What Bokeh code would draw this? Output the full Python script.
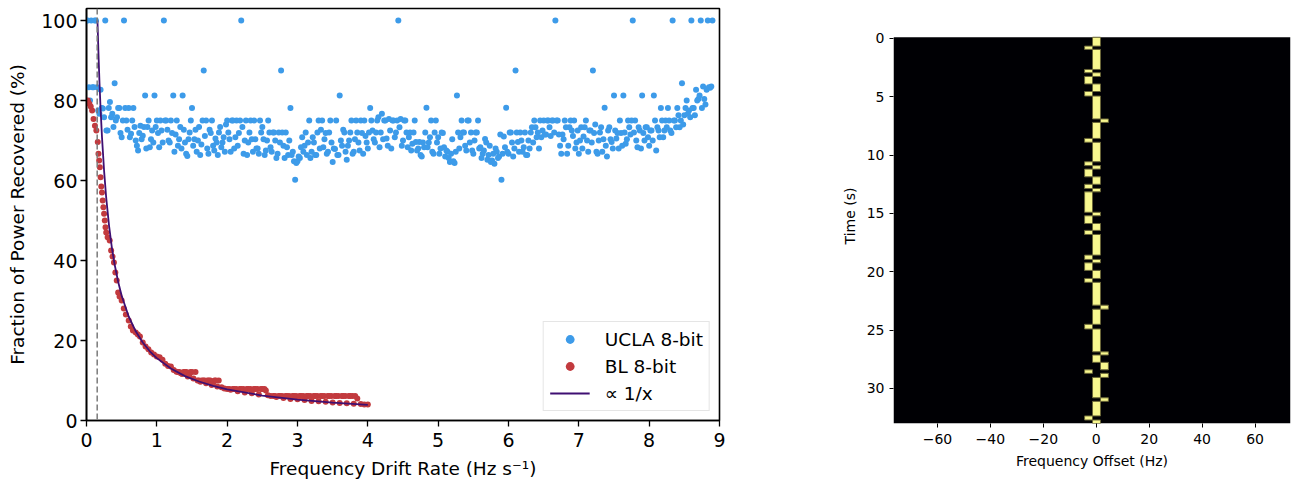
import numpy as np
from bokeh.plotting import figure
from bokeh.layouts import row
from bokeh.models import (Range1d, Span, Legend, LegendItem, FixedTicker,
                          ColumnDataSource)
from bokeh.embed import file_html
from bokeh.resources import INLINE

# ---------------- data: left panel ----------------
# UCLA 8-bit: drift rates sampled every 1/60 Hz/s from 0 to 8.9
ucla_step = 1.0 / 30.0
# values at x = i/30
ucla_y = [
    100, 83.3, 100, 83.3, 100, 77.5, 82.7, 78.0, 100, 72.5,
    79.6, 76.7, 84.3, 75.8, 78.1, 70.8, 100, 75.0, 78.1, 71.7,
    78.1, 70.0, 67.5, 73.7, 71.2, 81.25, 73.4, 68.3, 72.5, 81.25,
    75.0, 68.3, 72.5, 100, 75.0, 70.0, 75.0, 81.25, 71.5, 68.7,
    73.4, 81.25, 69.5, 66.1, 72.0, 78.1, 70.3, 67.2, 73.4, 69.0,
    87.5, 75.0, 66.7, 71.9, 68.7, 70.5, 66.4, 73.4, 69.5, 67.2,
    75.0, 70.3, 75.0, 68.0, 75.0, 71.9, 100, 66.7, 75.0, 69.5,
    75.0, 67.2, 70.3, 68.0, 75.0, 73.4, 66.4, 70.0, 72.0, 67.2,
    72.0, 65.6, 72.0, 87.5, 68.7, 72.0, 66.4, 78.1, 67.2, 60.2,
    64.8, 65.6, 70.8, 68.7, 66.4, 75.0, 67.2, 69.5, 66.4, 75.0,
    72.7, 68.3, 71.9, 67.2, 75.0, 64.6, 67.9, 66.4, 81.25, 68.7,
    72.0, 65.2, 70.0, 75.0, 67.2, 75.0, 69.5, 75.0, 66.7, 71.1,
    68.0, 78.1, 72.5, 69.5, 75.0, 68.3, 76.7, 75.0, 70.5, 75.4,
    68.0, 75.0, 72.0, 100, 75.4, 70.0, 75.0, 68.3, 72.0, 69.2,
    75.0, 67.5, 69.6, 66.0, 68.3, 78.2, 69.5, 75.0, 66.7, 75.0,
    70.8, 68.0, 71.9, 66.0, 67.2, 64.6, 70.3, 64.4, 81.25, 68.0,
    75.0, 72.0, 67.5, 75.0, 72.0, 66.7, 72.0, 75.0, 68.3, 66.7,
    70.4, 65.2, 68.7, 65.0, 64.2, 67.2, 66.0, 60.2, 71.0, 78.2,
    66.7, 72.0, 66.0, 87.5, 69.6, 72.0, 67.2, 72.0, 66.4, 68.0,
    73.3, 75.0, 70.8, 68.0, 70.8, 75.0, 71.5, 75.0, 71.1, 75.0,
    100, 75.0, 68.7, 71.5, 75.0, 66.7, 73.3, 72.5, 75.0, 69.5,
    66.7, 73.3, 71.0, 75.0, 67.2, 72.5, 87.5, 74.0, 66.7, 72.0,
    67.2, 78.2, 66.0, 73.3, 69.6, 81.25, 70.5, 68.0, 71.9, 81.25,
    69.2, 75.0, 71.5, 100, 75.0, 68.3, 72.5, 81.25, 70.0, 73.3,
    68.7, 72.5, 81.25, 67.5, 72.5, 78.1, 70.8, 75.0, 78.1, 72.5,
    100, 75.0, 78.1, 73.3, 84.3, 76.3, 80.0, 77.5, 100, 78.1,
    82.7, 80.4, 100, 83.5, 79.0, 100, 83.2, 100,
]
# values at x = (i + 0.5)/30
ucla_y_mid = [
    100, 80.0, 83.3, 100, 83.3, 76.7, 78.1, 75.8, 72.5, 78.1,
    75.8, 73.4, 75.0, 78.1, 71.9, 75.0, 78.1, 72.7, 70.8, 75.0,
    73.4, 68.7, 71.9, 70.3, 73.4, 68.0, 75.0, 70.3, 69.5, 73.4,
    71.9, 75.0, 69.5, 75.0, 72.7, 69.5, 71.9, 67.2, 75.0, 70.3,
    68.0, 72.7, 66.7, 70.3, 75.0, 68.7, 72.7, 70.0, 66.4, 75.0,
    71.1, 68.0, 72.7, 75.0, 67.5, 69.5, 72.0, 68.3, 70.8, 74.0,
    72.0, 67.2, 75.0, 70.8, 68.7, 75.0, 73.4, 70.0, 66.4, 72.0,
    70.3, 75.0, 68.0, 66.7, 72.0, 70.3, 67.5, 75.0, 68.3, 72.0,
    70.0, 66.7, 69.5, 72.0, 65.6, 68.3, 70.0, 66.4, 64.8, 64.4,
    66.0, 68.3, 67.2, 72.0, 69.5, 65.6, 70.8, 66.4, 72.0, 68.0,
    75.0, 70.3, 66.7, 72.0, 69.5, 68.0, 75.0, 66.4, 70.0, 72.7,
    67.2, 68.7, 72.0, 66.7, 70.3, 72.0, 67.5, 71.9, 75.0, 69.5,
    72.0, 75.0, 70.3, 72.0, 75.8, 72.0, 70.3, 75.0, 68.7, 72.5,
    75.0, 70.8, 75.0, 73.3, 68.7, 75.0, 72.0, 70.8, 67.5, 72.0,
    69.6, 68.0, 66.4, 69.5, 72.0, 68.3, 70.8, 67.2, 72.0, 69.5,
    66.7, 72.0, 68.3, 67.5, 65.6, 66.7, 64.8, 67.2, 72.0, 70.8,
    72.0, 68.7, 75.0, 69.5, 67.5, 70.0, 72.0, 68.0, 65.6, 67.5,
    69.5, 66.4, 64.6, 66.7, 68.0, 65.6, 71.5, 66.7, 68.3, 67.2,
    72.0, 69.5, 68.0, 72.0, 67.2, 70.0, 68.3, 66.4, 70.0, 72.0,
    69.5, 73.3, 72.0, 75.0, 72.5, 71.5, 75.0, 73.3, 75.0, 72.0,
    75.0, 71.5, 66.7, 70.3, 73.3, 68.7, 75.0, 71.1, 68.0, 72.5,
    70.0, 68.0, 73.3, 70.0, 72.5, 69.5, 71.9, 67.2, 70.0, 73.3,
    70.3, 68.7, 72.5, 70.3, 68.0, 72.5, 71.9, 75.0, 68.7, 72.0,
    70.3, 73.3, 75.0, 72.0, 70.0, 73.3, 68.0, 71.9, 73.3, 70.8,
    72.5, 70.0, 75.0, 73.3, 70.8, 75.0, 72.5, 73.3, 75.0, 71.9,
    75.0, 73.3, 76.3, 75.0, 74.0, 78.1, 76.7, 75.8, 78.1, 76.3,
    80.0, 81.25, 78.1, 80.4, 82.7, 83.3, 83.5,
]
ucla_x = ([i * ucla_step for i in range(len(ucla_y))] +
          [(i + 0.5) * ucla_step for i in range(len(ucla_y_mid))])
ucla_all_y = ucla_y + ucla_y_mid

# BL 8-bit
bl_x = [0.00, 0.02, 0.04, 0.06, 0.08, 0.10, 0.12, 0.14, 0.16, 0.17,
        0.18, 0.19, 0.20, 0.21, 0.22, 0.23, 0.24, 0.25, 0.26, 0.27,
        0.28, 0.30, 0.33, 0.35, 0.37, 0.39, 0.41, 0.43, 0.45, 0.47,
        0.50, 0.53, 0.56, 0.60, 0.63, 0.66, 0.70, 0.73, 0.76, 0.80,
        0.84, 0.88, 0.92, 0.96, 1.00, 1.04, 1.08, 1.12, 1.16, 1.20,
        1.24, 1.28, 1.32, 1.36, 1.40, 1.44, 1.48, 1.52, 1.55, 1.58,
        1.62, 1.66, 1.70, 1.74, 1.78, 1.82, 1.86, 1.88, 1.92, 1.96,
        2.00, 2.05, 2.10, 2.15, 2.20, 2.25, 2.30, 2.35, 2.40, 2.45,
        2.50, 2.55, 2.58, 2.62, 2.66, 2.70, 2.75, 2.80, 2.85, 2.90,
        2.95, 3.00, 3.05, 3.10, 3.15, 3.20, 3.25, 3.30, 3.35, 3.40,
        3.45, 3.50, 3.55, 3.60, 3.65, 3.70, 3.75, 3.80, 3.85, 3.90,
        3.95, 4.00,
        1.30, 1.34, 1.38, 1.42, 1.46, 1.50, 1.60, 1.64, 1.68, 1.72,
        1.76, 1.80, 1.84, 2.03, 2.08, 2.13, 2.18, 2.23, 2.28, 2.33,
        2.38, 2.43, 2.48, 2.53, 2.68, 2.73, 2.78, 2.83, 2.88, 2.93,
        2.98, 3.03, 3.08, 3.13, 3.18, 3.23, 3.28, 3.33, 3.38, 3.43,
        3.48, 3.53, 3.58, 3.63, 3.68, 3.73, 3.78, 3.82]
bl_y = [80.0, 80.0, 79.2, 78.5, 77.5, 75.4, 73.7, 72.5, 69.6, 66.7,
        65.0, 63.3, 60.8, 58.5, 57.0, 55.0, 53.3, 51.7, 50.0, 48.3,
        47.0, 45.8, 45.0, 42.5, 41.0, 39.5, 37.0, 35.0, 32.0, 31.0,
        30.0, 28.0, 26.5, 25.0, 23.5, 22.5, 22.0, 21.5, 21.0, 19.5,
        18.5, 17.8, 17.0, 16.5, 16.0, 15.8, 15.2, 14.2, 13.6, 13.5,
        12.6, 12.2, 12.1, 11.6, 12.1, 11.0, 12.1, 10.5, 12.1, 10.0,
        9.7, 10.0, 9.3, 10.0, 8.9, 10.0, 8.5, 10.0, 8.3, 8.0,
        7.9, 7.7, 7.9, 7.3, 7.9, 7.0, 7.9, 6.8, 7.9, 6.5,
        7.9, 7.5, 6.3, 6.1, 6.1, 5.9, 6.1, 5.6, 6.1, 5.4,
        6.1, 5.3, 6.1, 5.1, 6.1, 4.9, 6.1, 4.8, 6.1, 4.7,
        6.1, 4.5, 6.1, 4.4, 6.1, 4.3, 6.1, 4.2, 5.5, 4.1,
        4.0, 4.0,
        12.1, 11.8, 12.1, 12.1, 11.3, 12.1, 10.0, 10.0, 10.0, 10.0,
        10.0, 9.5, 10.0, 7.9, 7.9, 7.9, 7.9, 7.9, 7.9, 7.9,
        7.9, 7.9, 7.9, 7.9, 6.1, 6.1, 6.1, 6.1, 6.1, 6.1,
        6.1, 6.1, 6.1, 6.1, 6.1, 6.1, 6.1, 6.1, 6.1, 6.1,
        6.1, 6.1, 6.1, 6.1, 6.1, 6.1, 6.1, 6.1]

# proportional-to-1/x reference curve
fit_x = [0.156, 0.17, 0.185, 0.2, 0.22, 0.25, 0.28, 0.32, 0.36, 0.4,
         0.45, 0.5, 0.6, 0.7, 0.8, 0.9, 1.0, 1.2, 1.4, 1.6,
         1.8, 2.0, 2.5, 3.0, 3.5, 4.0]
fit_y = [100, 91.8, 84.3, 78.0, 70.9, 62.4, 55.7, 48.8, 43.3, 39.0,
         34.7, 31.2, 26.0, 22.3, 19.5, 17.3, 15.6, 13.0, 11.1, 9.75,
         8.67, 7.8, 6.24, 5.2, 4.46, 3.9]

cutoff_rate = 0.152

x_ticks = [0, 1, 2, 3, 4, 5, 6, 7, 8, 9]
y_ticks = [0, 20, 40, 60, 80, 100]

# ---------------- data: right panel (waterfall) ----------------
img_f = [-76.6, 73.4]     # frequency extent of the spectrogram (Hz)
img_t = [-0.1, 33.0]      # time extent (s)
chan_width = 3.0          # Hz per channel
chan_center = 0.1         # Hz, centre of channel 0
seg_t0 = [-0.1, 0.66, 0.94, 2.66, 2.94, 3.26, 3.9, 4.55, 4.94, 6.9,
          7.2, 8.57, 8.9, 10.57, 10.9, 11.2, 11.86, 12.5, 12.86, 13.15,
          14.9, 15.2, 15.86, 16.45, 16.8, 18.57, 18.94, 19.23, 19.88, 20.57,
          20.9, 22.86, 23.2, 24.5, 24.9, 26.86, 27.13, 27.76, 28.4, 28.7,
          29.05, 30.8, 31.1, 32.35, 32.7]
seg_t1 = seg_t0[1:] + [33.0]
seg_ch = [0, -1, 0, -1, 0, -1, 0, -1, 0, 1,
          0, -1, 0, -1, 0, -1, 0, -1, 0, -1,
          0, -1, 0, -1, 0, -1, 0, -1, 0, -1,
          0, 1, 0, -1, 0, 1, 0, 1, -1, 1,
          0, 1, 0, -1, 0]
f_ticks = [-60, -40, -20, 0, 20, 40, 60]
t_ticks = [0, 5, 10, 15, 20, 25, 30]

FONT = "DejaVu Sans"

# ---------------- left figure ----------------
p = figure(output_backend="svg", toolbar_location=None,
           x_range=Range1d(0, 9), y_range=Range1d(0, 103),
           frame_width=633, frame_height=412,
           min_border_left=86, min_border_right=10,
           min_border_top=8, min_border_bottom=62)
p.grid.visible = False
p.outline_line_color = "black"
p.outline_line_width = 1.6
p.background_fill_color = "white"
p.border_fill_color = "white"

r_ucla = p.scatter(ucla_x, ucla_all_y, size=6, color="#3d9be9", line_width=0)
r_bl = p.scatter(bl_x, bl_y, size=6, color="#c23a3e", line_width=0)
r_fit = p.line(fit_x, fit_y, line_color="#3f0f72", line_width=1.8)
p.add_layout(Span(location=cutoff_rate, dimension="height",
                  line_color="#7a7a7a", line_width=1.5, line_dash="6 3"))

p.xaxis.ticker = FixedTicker(ticks=x_ticks)
p.yaxis.ticker = FixedTicker(ticks=y_ticks)
for ax in (p.xaxis[0], p.yaxis[0]):
    ax.minor_tick_line_color = None
    ax.major_tick_in = 0
    ax.major_tick_out = 6
    ax.major_tick_line_width = 1.3
    ax.axis_line_width = 1.6
    ax.axis_line_color = "black"
    ax.major_tick_line_color = "black"
    ax.major_label_text_font = FONT
    ax.major_label_text_font_size = "19px"
    ax.major_label_text_color = "black"
    ax.axis_label_text_font = FONT
    ax.axis_label_text_font_size = "18.5px"
    ax.axis_label_text_font_style = "normal"
    ax.axis_label_text_color = "black"
p.xaxis.axis_label = "Frequency Drift Rate (Hz s\u207b\u00b9)"
p.yaxis.axis_label = "Fraction of Power Recovered (%)"
p.xaxis.major_label_standoff = 6
p.yaxis.major_label_standoff = 3
p.xaxis.axis_label_standoff = 8
p.yaxis.axis_label_standoff = 10

legend = Legend(items=[LegendItem(label="UCLA 8-bit", renderers=[r_ucla]),
                       LegendItem(label="BL 8-bit", renderers=[r_bl]),
                       LegendItem(label="\u221d 1/x", renderers=[r_fit])],
                location="bottom_right")
legend.margin = 9
legend.padding = 6
legend.spacing = 5
legend.glyph_width = 40
legend.glyph_height = 22
legend.label_height = 22
legend.label_standoff = 15
legend.label_text_font = FONT
legend.label_text_font_size = "18.5px"
legend.label_text_color = "black"
legend.border_line_color = "#cccccc"
legend.border_line_width = 1.2
legend.background_fill_alpha = 0.85
p.add_layout(legend)

# ---------------- right figure ----------------
q = figure(output_backend="svg", toolbar_location=None,
           x_range=Range1d(img_f[0], img_f[1]), y_range=Range1d(33.0, -2.564),
           frame_width=397, frame_height=415,
           min_border_left=164, min_border_right=4,
           min_border_top=8, min_border_bottom=58)
q.grid.visible = False
q.outline_line_color = None
q.background_fill_color = "white"
q.border_fill_color = "white"

# empty (zero-power) spectrogram background
q.quad(left=[img_f[0]], right=[img_f[1]], top=[img_t[0]], bottom=[img_t[1]],
       fill_color="#000004", line_color=None)
src = ColumnDataSource(dict(
    left=[chan_center + c * chan_width - chan_width / 2 for c in seg_ch],
    right=[chan_center + c * chan_width + chan_width / 2 for c in seg_ch],
    top=seg_t0, bottom=seg_t1))
q.quad(left="left", right="right", top="top", bottom="bottom", source=src,
       fill_color="#f8f78f", line_color="#6a6638", line_width=1)

q.xaxis.ticker = FixedTicker(ticks=f_ticks)
q.yaxis.ticker = FixedTicker(ticks=t_ticks)
q.xaxis.major_label_overrides = {t: (str(t).replace("-", "\u2212")) for t in f_ticks}
for ax in (q.xaxis[0], q.yaxis[0]):
    ax.minor_tick_line_color = None
    ax.major_tick_in = 0
    ax.major_tick_out = 4
    ax.major_tick_line_width = 1
    ax.axis_line_color = None
    ax.major_tick_line_color = "black"
    ax.major_label_text_font = FONT
    ax.major_label_text_font_size = "14px"
    ax.major_label_text_color = "black"
    ax.axis_label_text_font = FONT
    ax.axis_label_text_font_size = "14px"
    ax.axis_label_text_font_style = "normal"
    ax.axis_label_text_color = "black"
q.xaxis.axis_label = "Frequency Offset (Hz)"
q.yaxis.axis_label = "Time (s)"
q.xaxis.major_label_standoff = 6
q.yaxis.major_label_standoff = 5
q.xaxis.axis_label_standoff = 6
q.yaxis.axis_label_standoff = 6

layout = row(p, q)
open("out.html", "w").write(file_html(layout, INLINE))
